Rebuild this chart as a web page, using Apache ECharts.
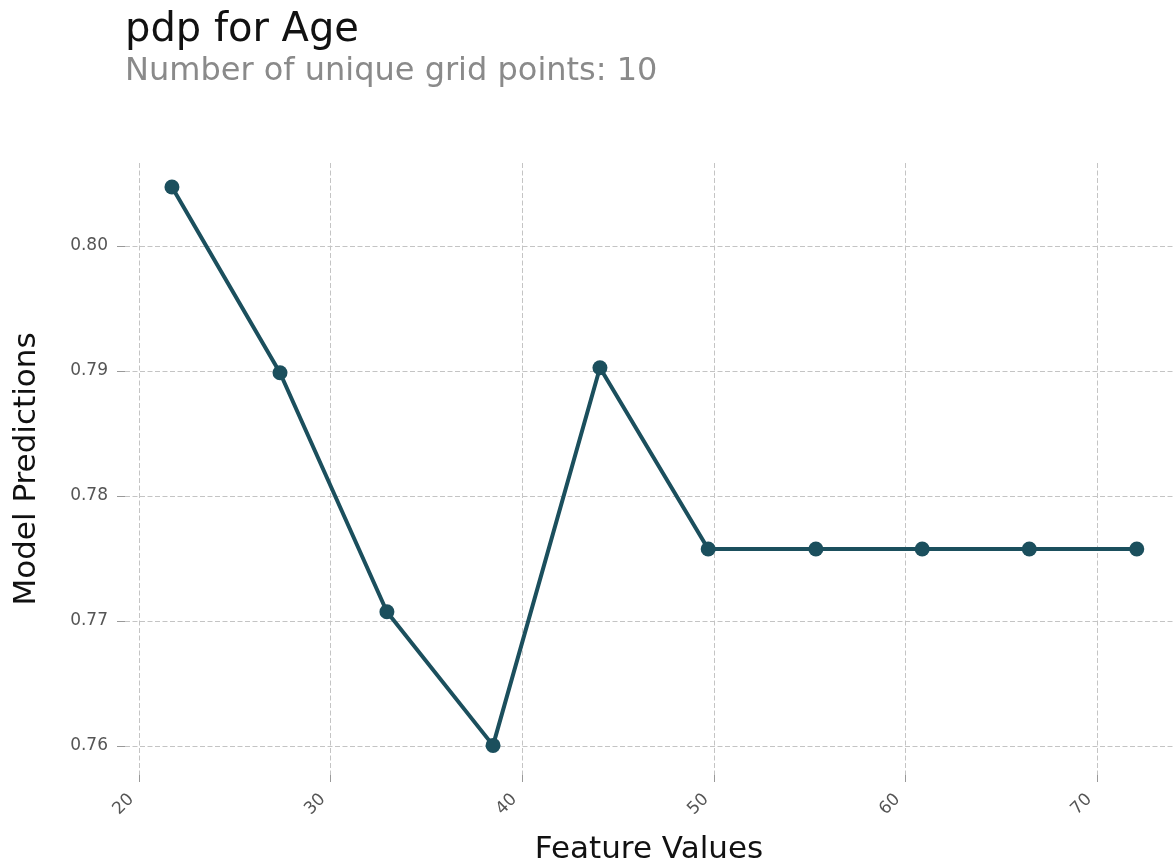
<!DOCTYPE html>
<html>
<head>
<meta charset="utf-8">
<title>pdp for Age</title>
<script src="https://cdn.jsdelivr.net/npm/echarts@6/dist/echarts.min.js"></script>
<style>
  html, body { margin: 0; padding: 0; background: #ffffff; }
  #chart { width: 1173px; height: 865px; }
</style>
</head>
<body>
<div id="chart"></div>
<script>
// Partial dependence of the model prediction on Age
const gridPoints = [21.72, 27.36, 32.94, 38.48, 44.06, 49.71, 55.33, 60.88, 66.47, 72.08];
const predictions = [0.80472, 0.78986, 0.77074, 0.76005, 0.79026, 0.77576, 0.77576, 0.77576, 0.77576, 0.77576];
const xTicks = [20, 30, 40, 50, 60, 70];
const yTicks = [0.76, 0.77, 0.78, 0.79, 0.80];

const FONT = '"DejaVu Sans", sans-serif';
const LINE = '#1b4f5d';
const GRID = '#c4c4c4';

const chart = echarts.init(document.getElementById('chart'), null, { renderer: 'canvas' });

chart.setOption({
  backgroundColor: '#ffffff',
  animation: false,
  title: {
    text: 'pdp for Age',
    subtext: 'Number of unique grid points: 10',
    left: 120,
    top: 6,
    itemGap: 5,
    textStyle: { fontFamily: FONT, fontSize: 40, fontWeight: 'normal', color: '#111111' },
    subtextStyle: { fontFamily: FONT, fontSize: 32, color: '#8a8a8a' }
  },
  // plot area runs off the right edge of the canvas
  grid: { left: 125, top: 163, right: 0, height: 612, containLabel: false, outerBoundsMode: 'none' },
  xAxis: {
    type: 'value',
    min: 19.27,
    max: 73.97,
    name: 'Feature Values',
    nameLocation: 'middle',
    nameGap: 59,
    nameTextStyle: { fontFamily: FONT, fontSize: 31, color: '#111111' },
    axisLine: { show: false },
    axisTick: { show: true, length: 7, customValues: xTicks, lineStyle: { color: '#999999', width: 1 } },
    axisLabel: {
      customValues: xTicks,
      rotate: 45,
      margin: 14,
      padding: [0, 11, 0, 0],
      fontFamily: FONT,
      fontSize: 17,
      color: '#555555'
    },
    splitLine: { show: true, lineStyle: { color: GRID, type: [5, 2.5], width: 1 } }
  },
  yAxis: {
    type: 'value',
    min: 0.75768,
    max: 0.80664,
    name: 'Model Predictions',
    nameLocation: 'middle',
    nameGap: 83,
    nameTextStyle: { fontFamily: FONT, fontSize: 31, color: '#111111' },
    axisLine: { show: false },
    axisTick: { show: true, length: 8, customValues: yTicks, lineStyle: { color: '#999999', width: 1 } },
    axisLabel: {
      customValues: yTicks,
      margin: 17,
      fontFamily: FONT,
      fontSize: 17,
      color: '#555555',
      formatter: v => v.toFixed(2)
    },
    splitLine: { show: true, lineStyle: { color: GRID, type: [5, 2.5], width: 1 } }
  },
  series: [{
    type: 'line',
    data: gridPoints.map((x, i) => [x, predictions[i]]),
    symbol: 'circle',
    symbolSize: 15,
    showSymbol: true,
    lineStyle: { color: LINE, width: 4 },
    itemStyle: { color: LINE },
    clip: false
  }]
});
</script>
</body>
</html>
